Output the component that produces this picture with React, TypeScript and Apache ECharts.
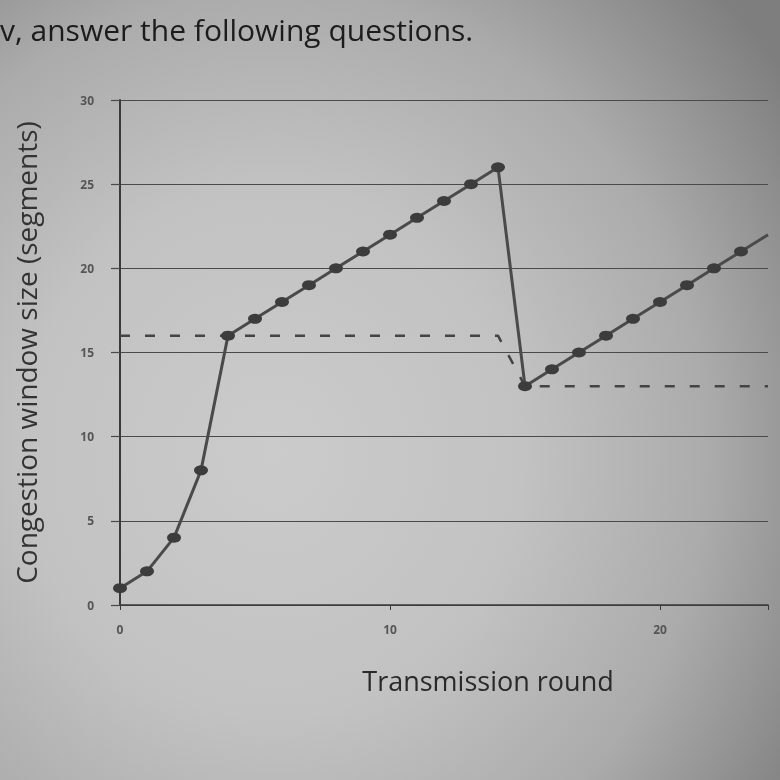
import React, { useEffect, useRef } from "react";
import * as echarts from "echarts";

// Transmission rounds (x values)
const rounds = [0, 1, 2, 3, 4, 5, 6, 7, 8, 9, 10, 11, 12, 13, 14, 15, 16, 17, 18, 19, 20, 21, 22, 23, 24];
// Congestion window size (segments) per round
const cwnd = [1, 2, 4, 8, 16, 17, 18, 19, 20, 21, 22, 23, 24, 25, 26, 13, 14, 15, 16, 17, 18, 19, 20, 21, 22];
// Slow-start threshold (dashed)
const ssthresh = [16, 16, 16, 16, 16, 16, 16, 16, 16, 16, 16, 16, 16, 16, 16, 13, 13, 13, 13, 13, 13, 13, 13, 13, 13];
// Axis ticks
const yTicks = [0, 5, 10, 15, 20, 25, 30];
const xTicks = [0, 10, 20];

const headerText = "v, answer the following questions.";

export default function App() {
  const ref = useRef<HTMLDivElement>(null);
  useEffect(() => {
    if (!ref.current) return;
    const chart = echarts.init(ref.current, undefined, { renderer: "svg" });
    const lastIdx = rounds.length - 1;
    const cwndData = rounds.map((r, i) =>
      i === lastIdx ? { value: [r, cwnd[i]], symbol: "none" } : { value: [r, cwnd[i]] }
    );
    const ssData = rounds.map((r, i) => [r, ssthresh[i]]);
    chart.setOption({
      animation: false,
      backgroundColor: "transparent",
      grid: { left: 120, top: 100, width: 648, height: 505 },
      xAxis: {
        type: "value",
        min: xTicks[0],
        max: 24,
        interval: 10,
        name: "Transmission round",
        nameLocation: "middle",
        nameGap: 62,
        nameTextStyle: {
          fontFamily: "Open Sans",
          fontSize: 27,
          color: "#2a2a2a",
          padding: [0, 0, 0, 88],
        },
        axisLine: { show: true, lineStyle: { color: "#3a3a3a", width: 1.5 } },
        axisTick: { show: true, length: 5, lineStyle: { color: "#3a3a3a" } },
        axisLabel: {
          fontFamily: "Open Sans",
          fontSize: 12,
          fontWeight: "bold",
          color: "#555",
          margin: 18,
          formatter: (v: number) => (xTicks.indexOf(v) >= 0 ? String(v) : ""),
        },
        splitLine: { show: false },
      },
      yAxis: {
        type: "value",
        min: yTicks[0],
        max: yTicks[yTicks.length - 1],
        interval: 5,
        name: "Congestion window size (segments)",
        nameLocation: "middle",
        nameGap: 80,
        nameTextStyle: { fontFamily: "Open Sans", fontSize: 28, color: "#333" },
        axisLine: { show: true, lineStyle: { color: "#3a3a3a", width: 2 } },
        axisTick: { show: true, length: 9, lineStyle: { color: "#4a4a4a", width: 1.2 } },
        axisLabel: {
          fontFamily: "Open Sans",
          fontSize: 12,
          fontWeight: "bold",
          color: "#555",
          margin: 26,
        },
        splitLine: { show: true, lineStyle: { color: "#4a4a4a", width: 1.2 } },
      },
      series: [
        {
          name: "ssthresh",
          type: "line",
          data: ssData,
          symbol: "none",
          lineStyle: { color: "#444", width: 2.5, type: [10, 15] },
          z: 2,
        },
        {
          name: "cwnd",
          type: "line",
          data: cwndData,
          symbol: "circle",
          symbolSize: [14, 10],
          itemStyle: { color: "#3c3c3c" },
          lineStyle: { color: "#4a4a4a", width: 3 },
          z: 3,
        },
      ],
      graphic: [
        {
          type: "text",
          left: 0,
          top: 14,
          style: {
            text: headerText,
            fontFamily: "Open Sans",
            fontSize: 30,
            fill: "#1c1c1c",
          },
        },
      ],
    });
    return () => chart.dispose();
  }, []);
  return (
    <div
      style={{
        position: "fixed",
        left: 0,
        top: 0,
        width: 780,
        height: 780,
        background:
          "radial-gradient(ellipse 80% 85% at 35% 58%, #cbcbcb 0%, #c2c2c2 40%, #ababab 70%, #7e7e7e 100%)",
      }}
    >
      <div ref={ref} style={{ width: 780, height: 780 }} />
    </div>
  );
}
